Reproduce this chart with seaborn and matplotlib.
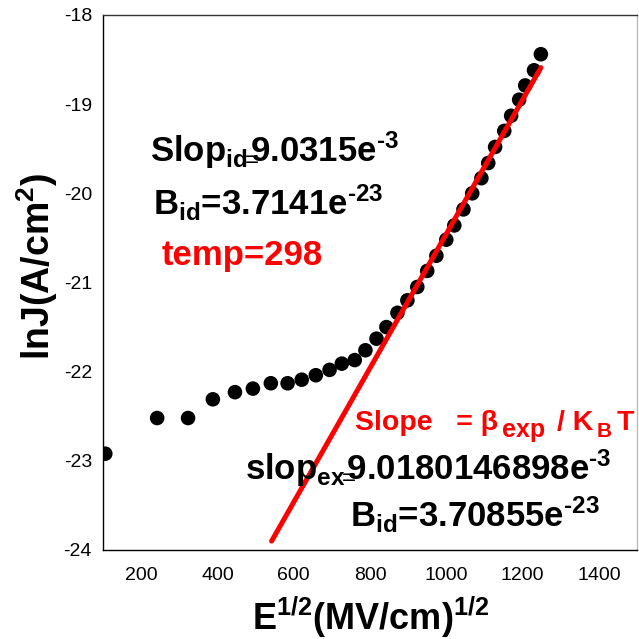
import matplotlib
matplotlib.use("Agg")
import matplotlib.pyplot as plt
import seaborn as sns
import pandas as pd

# data
e_half = [106, 242, 323, 388, 446, 493, 540, 584, 621, 658, 694, 726, 760, 788,
          817, 843, 872, 898, 924, 950, 974, 1000, 1021, 1045, 1068, 1092, 1110,
          1128, 1152, 1170, 1191, 1207, 1230, 1248]
ln_j = [-22.92, -22.52, -22.52, -22.31, -22.23, -22.19, -22.13, -22.13, -22.09,
        -22.04, -21.98, -21.91, -21.87, -21.76, -21.63, -21.50, -21.34, -21.20,
        -21.05, -20.87, -20.70, -20.52, -20.36, -20.18, -20.00, -19.83, -19.66,
        -19.48, -19.30, -19.13, -18.95, -18.79, -18.62, -18.44]
fit_x = [542, 1248]
fit_y = [-23.90, -18.59]
x_ticks = [200, 400, 600, 800, 1000, 1200, 1400]
y_ticks = [-24, -23, -22, -21, -20, -19, -18]

sns.set_style("white")
plt.rcParams['font.family'] = ['Liberation Sans', 'DejaVu Sans']
plt.rcParams['mathtext.fontset'] = 'custom'
plt.rcParams['mathtext.bf'] = 'Liberation Sans:bold'
plt.rcParams['mathtext.rm'] = 'Liberation Sans'
plt.rcParams['mathtext.it'] = 'Liberation Sans:italic'
plt.rcParams['axes.unicode_minus'] = False
for k in ['text.color', 'axes.labelcolor', 'xtick.color', 'ytick.color']:
    plt.rcParams[k] = 'black'

W, H = 639, 639
fig = plt.figure(figsize=(W / 100, H / 100), dpi=100)
L, R, T, B = 103, 637, 15, 550
ax = fig.add_axes([L / W, 1 - B / H, (R - L) / W, (B - T) / H])


def fx(px):
    return (px - L) / (R - L)


def fy(py):
    return (B - py) / (B - T)


df = pd.DataFrame({"x": e_half, "y": ln_j})
fit = pd.DataFrame({"x": fit_x, "y": fit_y})
sns.scatterplot(data=df, x="x", y="y", ax=ax, color="black", s=110,
                edgecolor="none", zorder=2)
sns.lineplot(data=fit, x="x", y="y", ax=ax, color="red", linewidth=3.6,
             zorder=3, solid_capstyle="round")

ax.set_xlim(100, 1500)
ax.set_ylim(-24, -18)
ax.set_xticks(x_ticks)
ax.set_yticks(y_ticks)
ax.tick_params(direction="in", length=8, width=1, colors="black",
               labelsize=14)
ax.tick_params(axis="y", pad=8)
ax.tick_params(axis="x", pad=12)
for side in ["left", "bottom"]:
    ax.spines[side].set_color("black")
    ax.spines[side].set_linewidth(1)
ax.spines["top"].set_color("#333333")
ax.spines["top"].set_linewidth(1)
ax.spines["right"].set_color("#bbbbbb")
ax.spines["right"].set_linewidth(1)

ax.set_xlabel(r"E$^{\mathbf{1/2}}$(MV/cm)$^{\mathbf{1/2}}$", fontsize=26,
              fontweight="bold", va="baseline")
ax.xaxis.set_label_coords(0.502, fy(630))
ax.set_ylabel(r"lnJ(A/cm$^{\mathbf{2}}$)", fontsize=27, fontweight="bold",
              va="baseline", ha="center")
ax.yaxis.set_label_coords(fx(50), fy(266))

HY = "\u2010"
tr = ax.transAxes
kw = dict(transform=tr, fontweight="bold", ha="left", va="baseline")
ax.text(fx(150), fy(162),
        r"Slop$_{\mathbf{id}\!\!=\!\!\!\!}$9.0315e$^{\mathbf{" + HY + r"3}}$",
        fontsize=25, **kw)
ax.text(fx(153), fy(215),
        r"B$_{\mathbf{id}}$=3.7141e$^{\mathbf{" + HY + r"23}}$",
        fontsize=25, **kw)
ax.text(fx(162), fy(265), "temp=298", fontsize=25, color="red", **kw)

# red formula, built from pieces
ax.text(fx(355), fy(430), "Slope   = β", fontsize=20.5, color="red", **kw)
ax.text(fx(502), fy(437), "exp", fontsize=18, color="red", **kw)
ax.text(fx(557), fy(430), "/ K", fontsize=20.5, color="red", **kw)
ax.text(fx(597), fy(437), "B", fontsize=15, color="red", **kw)
ax.text(fx(617), fy(430), "T", fontsize=20.5, color="red", **kw)

ax.text(fx(245), fy(480),
        r"slop$_{\mathbf{ex}\!\!=\!\!\!\!}$9.0180146898e$^{\mathbf{" + HY + r"3}}$",
        fontsize=25, **kw)
ax.text(fx(350), fy(527),
        r"B$_{\mathbf{id}}$=3.70855e$^{\mathbf{" + HY + r"23}}$",
        fontsize=25, **kw)

fig.savefig("out.png", dpi=100)
